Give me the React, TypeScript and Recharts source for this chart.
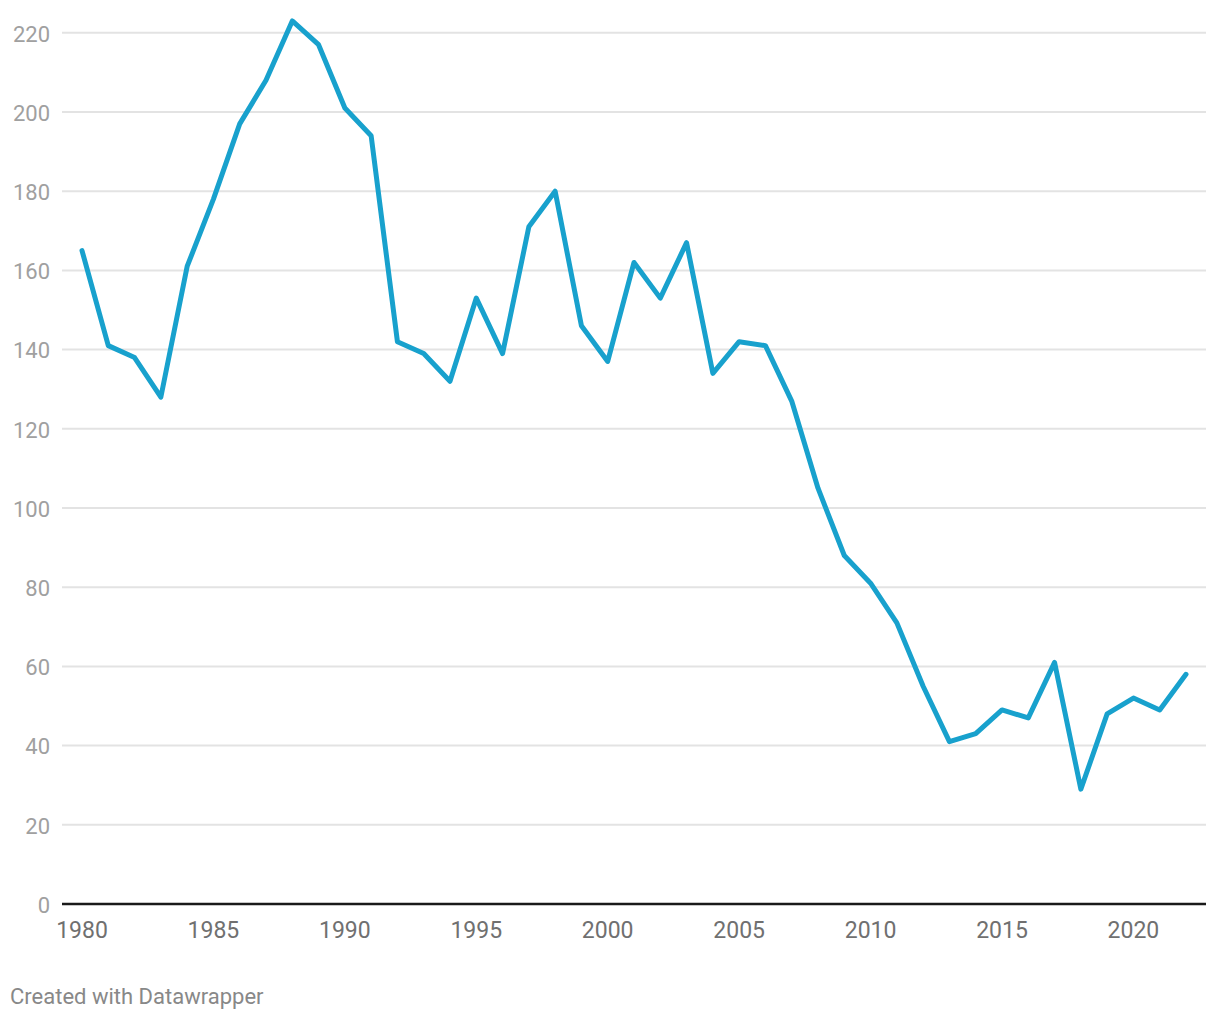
import { LineChart, Line, XAxis, YAxis, CartesianGrid } from 'recharts';

const years = [
  1980, 1981, 1982, 1983, 1984, 1985, 1986, 1987, 1988, 1989,
  1990, 1991, 1992, 1993, 1994, 1995, 1996, 1997, 1998, 1999,
  2000, 2001, 2002, 2003, 2004, 2005, 2006, 2007, 2008, 2009,
  2010, 2011, 2012, 2013, 2014, 2015, 2016, 2017, 2018, 2019,
  2020, 2021, 2022,
];

const values = [
  165, 141, 138, 128, 161, 178, 197, 208, 223, 217,
  201, 194, 142, 139, 132, 153, 139, 171, 180, 146,
  137, 162, 153, 167, 134, 142, 141, 127, 105, 88,
  81, 71, 55, 41, 43, 49, 47, 61, 29, 48,
  52, 49, 58,
];

const xTicks = [1980, 1985, 1990, 1995, 2000, 2005, 2010, 2015, 2020];
const yTicks = [0, 20, 40, 60, 80, 100, 120, 140, 160, 180, 200, 220];
const yMax = 225;

const data = years.map((year, i) => ({ year, value: values[i] }));

const font = 'Roboto, "Noto Sans", sans-serif';

// grid lines only at the labelled ticks, not at the plot's top edge
const gridRows = (props: any) => {
  const { yAxis, offset } = props;
  if (yAxis && typeof yAxis.scale === 'function') {
    return yTicks.filter((t) => t > 0).map((t) => yAxis.scale(t));
  }
  return yTicks
    .filter((t) => t > 0)
    .map((t) => offset.top + offset.height * (1 - t / yMax));
};

export default function App() {
  return (
    <div style={{ width: 1204, fontFamily: font }}>
      <LineChart
        width={1204}
        height={940}
        data={data}
        margin={{ top: 5, right: 6, left: 0, bottom: 4 }}
      >
        <CartesianGrid
          vertical={false}
          stroke="#e3e3e3"
          strokeWidth={2}
          horizontalCoordinatesGenerator={gridRows}
        />
        <XAxis
          dataKey="year"
          type="number"
          domain={[1980, 2022]}
          ticks={xTicks}
          padding={{ left: 20, right: 20 }}
          height={40}
          tickSize={0}
          tickMargin={18}
          axisLine={{ stroke: '#1a1a1a', strokeWidth: 2.5 }}
          tickLine={false}
          tick={{ fill: '#707070', fontSize: 23, fontFamily: font }}
        />
        <YAxis
          type="number"
          domain={[0, yMax]}
          ticks={yTicks}
          width={54}
          tickSize={0}
          tickMargin={12}
          axisLine={false}
          tickLine={false}
          tick={{ fill: '#a0a0a0', fontSize: 22, fontFamily: font, dy: 1 }}
        />
        <Line
          type="linear"
          dataKey="value"
          stroke="#18a1cd"
          strokeWidth={5}
          strokeLinecap="round"
          strokeLinejoin="round"
          dot={false}
          activeDot={false}
          isAnimationActive={false}
        />
      </LineChart>
      <div style={{ marginTop: 36, marginLeft: 2, fontSize: 22, color: '#888' }}>
        Created with Datawrapper
      </div>
    </div>
  );
}
